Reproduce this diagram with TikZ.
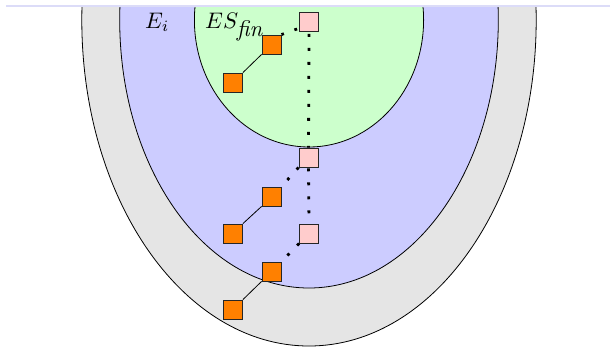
\documentclass[tikz,border=0pt]{standalone}
\usepackage{fix-cm}
\usetikzlibrary{calc}
\definecolor{outerfill}{HTML}{E5E5E5}
\definecolor{midfill}{HTML}{CCCCFF}
\definecolor{innerfill}{HTML}{CCFFCC}
\definecolor{pinkfill}{HTML}{FFCCCC}
\definecolor{orangefill}{HTML}{FF8000}
\definecolor{topband}{HTML}{DCDCF8}
\tikzset{
  region/.style={draw=black,line width=0.8pt},
  obox/.style={draw=black!85,line width=0.9pt,fill=orangefill,minimum size=19pt,inner sep=0pt},
  pbox/.style={draw=black!85,line width=0.9pt,fill=pinkfill,minimum size=19pt,inner sep=0pt},
  link/.style={line width=0.8pt},
  dotlink/.style={line width=2.8pt,dash pattern=on 2.8pt off 11.2pt},
  lbl/.style={inner sep=0pt,anchor=base west}
}
\begin{document}
\begin{tikzpicture}[x=1pt,y=-1pt]
\useasboundingbox (0,0) rectangle (610,349);
\fill[topband] (6,5) rectangle (610,7);
\begin{scope}
\clip (0,7) rectangle (610,349);
\draw[region,fill=outerfill] (309,20) ellipse [x radius=227.2, y radius=326];
\draw[region,fill=midfill] (309,20) ellipse [x radius=189.3, y radius=268];
\draw[region,fill=innerfill] (309,20) ellipse [x radius=114.6, y radius=127];
\end{scope}
\node[lbl] (ei) at (145,28.5) {\scalebox{2.25}{$E_i$}};
\node[lbl] (esfin) at (205,28.5) {\scalebox{2.25}{$ES_{\textit{fin}}$}};
% squares
\node[pbox] (p1) at (309,22) {};
\node[pbox] (p2) at (308.5,157.5) {};
\node[pbox] (p3) at (309,233.5) {};
\node[obox] (o1) at (271.5,44.5) {};
\node[obox] (o2) at (233,82.5) {};
\node[obox] (o3) at (271.5,196.5) {};
\node[obox] (o4) at (233,233.5) {};
\node[obox] (o5) at (271.5,271.5) {};
\node[obox] (o6) at (233,309.5) {};
% solid links
\draw[link] (o2.north east) -- (o1.south west);
\draw[link] (o4.north east) -- (o3.south west);
\draw[link] (o6.north east) -- (o5.south west);
% dotted links
\draw[dotlink,dash phase=-2pt] (p1.south) -- (p2.north);
\draw[dotlink,dash phase=-1pt] (p2.south) -- (p3.north);
\draw[dotlink] (p1.south west) ++(-2,-3) coordinate (a1) (a1) -- (o1.north east);
\draw[dotlink] (p2.south west) -- (o3.north east);
\draw[dotlink] (p3.south west) -- (o5.north east);
\end{tikzpicture}
\end{document}
